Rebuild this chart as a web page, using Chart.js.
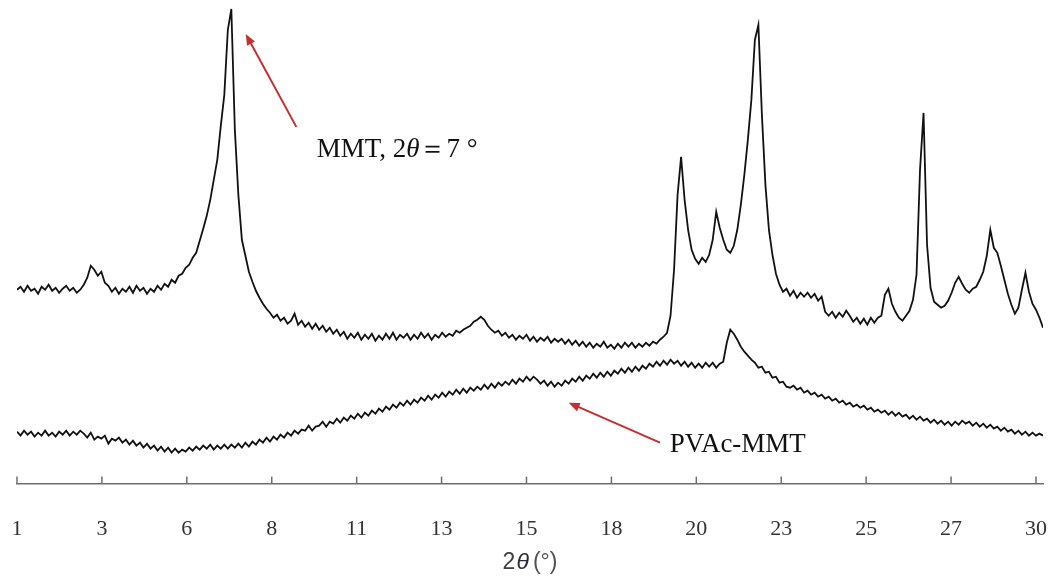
<!DOCTYPE html>
<html>
<head>
<meta charset="utf-8">
<script src="https://cdn.jsdelivr.net/npm/chart.js@4.4.1/dist/chart.umd.min.js"></script>
<style>
  html, body { margin: 0; padding: 0; background: #fff; }
  #wrap { width: 1056px; height: 577px; }
</style>
</head>
<body>
<div id="wrap"><canvas id="xrd" width="1056" height="577"></canvas></div>
<script>
// x axis labels as printed (Excel-style rounded values, evenly spaced from 1 to 30)
const tickLabels = ['1', '3', '6', '8', '11', '13', '15', '18', '20', '23', '25', '27', '30'];

// intensities (a.u.), one value every 0.1 degree from 2θ = 1.0 to 30.2
const mmt = [
  194, 197, 192, 198, 193, 195, 190, 197, 194, 199,
  193, 196, 191, 195, 198, 193, 196, 191, 194, 199,
  206, 218, 214, 208, 212, 201, 198, 192, 196, 190,
  195, 192, 197, 191, 198, 193, 196, 190, 195, 192,
  198, 194, 200, 197, 204, 201, 208, 210, 216, 219,
  226, 231, 243, 255, 268, 284, 304, 324, 358, 389,
  454, 475, 354, 289, 244, 228, 212, 202, 193, 186,
  180, 175, 171, 166, 169, 163, 166, 160, 163, 170,
  159, 163, 157, 161, 155, 160, 154, 158, 152, 156,
  150, 154, 148, 152, 145, 150, 146, 151, 144, 149,
  145, 150, 143, 148, 144, 150, 145, 151, 144, 149,
  146, 150, 144, 149, 145, 151, 146, 150, 144, 149,
  146, 151, 147, 150, 148, 153, 151, 154, 156, 158,
  162, 164, 167, 164, 158, 154, 151, 153, 148, 151,
  146, 149, 144, 148, 145, 149, 143, 147, 142, 146,
  143, 147, 141, 145, 142, 145, 140, 144, 139, 143,
  138, 142, 137, 141, 136, 140, 137, 142, 136, 139,
  135, 140, 136, 141, 137, 141, 136, 140, 137, 141,
  138, 142, 140, 144, 147, 151, 168, 214, 289, 327,
  284, 254, 234, 225, 220, 226, 222, 229, 244, 272,
  256, 244, 234, 231, 238, 254, 279, 309, 344, 384,
  444, 459, 369, 299, 254, 229, 210, 199, 192, 195,
  188, 193, 186, 191, 187, 191, 186, 190, 183, 187,
  172, 168, 172, 166, 171, 167, 173, 168, 162, 166,
  160, 165, 159, 166, 161, 166, 168, 189, 195, 180,
  172, 166, 163, 168, 173, 184, 209, 314, 371, 239,
  196, 182, 179, 176, 178, 183, 191, 201, 207, 200,
  194, 191, 195, 197, 204, 212, 228, 254, 236, 231,
  218, 204, 190, 179, 170, 176, 194, 211, 192, 180,
  174, 166, 156
];

const pvacMmt = [
  52, 48, 53, 49, 52, 47, 51, 48, 53, 48,
  51, 47, 52, 49, 53, 48, 52, 49, 53, 50,
  46, 51, 44, 47, 45, 48, 40, 45, 43, 46,
  41, 44, 39, 43, 38, 41, 36, 40, 35, 38,
  33, 37, 32, 36, 31, 35, 31, 34, 32, 36,
  33, 37, 34, 38, 35, 39, 34, 38, 35, 39,
  35, 39, 36, 40, 36, 41, 37, 42, 39, 44,
  41, 46, 42, 47, 44, 49, 46, 51, 48, 53,
  50, 54, 53, 58, 53, 57, 58, 62, 57, 62,
  60, 65, 61, 66, 63, 68, 65, 70, 66, 71,
  68, 73, 70, 75, 72, 77, 74, 79, 76, 81,
  78, 83, 79, 84, 81, 86, 83, 88, 84, 89,
  86, 91, 87, 92, 89, 94, 90, 95, 91, 96,
  93, 97, 94, 99, 95, 100, 96, 101, 98, 102,
  99, 104, 100, 105, 102, 107, 103, 107, 104, 100,
  103, 98, 102, 97, 101, 98, 103, 100, 105, 102,
  107, 103, 108, 105, 110, 106, 111, 107, 112, 108,
  113, 110, 115, 111, 116, 112, 117, 113, 118, 115,
  120, 117, 122, 118, 123, 119, 124, 120, 123, 118,
  122, 117, 121, 116, 120, 116, 121, 117, 121, 116,
  120, 122, 141, 154, 150, 144, 137, 132, 128, 124,
  121, 116, 117, 111, 112, 106, 107, 101, 102, 97,
  96, 98, 94, 96, 91, 93, 89, 91, 87, 89,
  85, 87, 83, 85, 81, 83, 79, 81, 77, 79,
  76, 78, 74, 76, 72, 74, 71, 73, 69, 72,
  68, 71, 67, 69, 65, 68, 64, 67, 63, 65,
  61, 64, 60, 63, 59, 62, 58, 62, 59, 63,
  60, 62, 58, 61, 57, 60, 56, 59, 55, 57,
  53, 56, 52, 54, 50, 53, 49, 52, 48, 51,
  48, 50, 48
];

const twoTheta = mmt.map((_, i) => +(1 + i * 0.1).toFixed(1));
const toPoints = arr => arr.map((v, i) => ({ x: twoTheta[i], y: v }));

// callouts, in data coordinates
const notes = [
  { parts: [['MMT, 2', ''], ['θ', 'italic '], ['＝7 °', '']], at: [9.53, 327], from: [8.95, 357], to: [7.51, 450] },
  { parts: [['PVAc-MMT', '']], at: [19.58, 32], from: [19.3, 41], to: [16.7, 81] }
];

const decor = {
  id: 'decor',
  afterDraw(chart) {
    const { ctx, chartArea } = chart;
    const x = chart.scales.x, y = chart.scales.y;
    ctx.save();

    // small tick marks standing up on the axis line
    ctx.strokeStyle = '#6e6e6e';
    ctx.lineWidth = 1.5;
    x.ticks.forEach(t => {
      const px = x.getPixelForValue(t.value);
      ctx.beginPath();
      ctx.moveTo(px, chartArea.bottom);
      ctx.lineTo(px, chartArea.bottom - 7);
      ctx.stroke();
    });

    // axis title 2θ(°)
    const title = [['2', '', '#404040', 1], ['θ', 'italic ', '#2a2a3a', 4], ['(°)', '', '#505050', 0]];
    const tf = '23px "Liberation Sans"';
    ctx.textBaseline = 'middle';
    let w = 0;
    title.forEach(p => { ctx.font = p[1] + tf; w += ctx.measureText(p[0]).width + p[3]; });
    let tx = (chartArea.left + chartArea.right) / 2 - w / 2;
    title.forEach(p => {
      ctx.font = p[1] + tf;
      ctx.fillStyle = p[2];
      ctx.fillText(p[0], tx, x.bottom + 19);
      tx += ctx.measureText(p[0]).width + p[3];
    });

    // red arrows and callout text
    notes.forEach(n => {
      const x0 = x.getPixelForValue(n.from[0]), y0 = y.getPixelForValue(n.from[1]);
      const x1 = x.getPixelForValue(n.to[0]), y1 = y.getPixelForValue(n.to[1]);
      const a = Math.atan2(y1 - y0, x1 - x0);
      ctx.strokeStyle = '#c3302f';
      ctx.fillStyle = '#c3302f';
      ctx.lineWidth = 2;
      ctx.beginPath();
      ctx.moveTo(x0, y0);
      ctx.lineTo(x1 - 8 * Math.cos(a), y1 - 8 * Math.sin(a));
      ctx.stroke();
      ctx.beginPath();
      ctx.moveTo(x1, y1);
      ctx.lineTo(x1 - 11 * Math.cos(a) + 4.5 * Math.sin(a), y1 - 11 * Math.sin(a) - 4.5 * Math.cos(a));
      ctx.lineTo(x1 - 11 * Math.cos(a) - 4.5 * Math.sin(a), y1 - 11 * Math.sin(a) + 4.5 * Math.cos(a));
      ctx.closePath();
      ctx.fill();

      let lx = x.getPixelForValue(n.at[0]);
      const ly = y.getPixelForValue(n.at[1]);
      ctx.fillStyle = '#111';
      ctx.textBaseline = 'alphabetic';
      n.parts.forEach(p => {
        ctx.font = p[1] + '27px "Liberation Serif"';
        ctx.fillText(p[0], lx, ly);
        lx += ctx.measureText(p[0]).width;
      });
    });
    ctx.restore();
  }
};

new Chart(document.getElementById('xrd'), {
  type: 'line',
  data: {
    datasets: [
      { label: 'MMT', data: toPoints(mmt), borderColor: '#111', borderWidth: 1.8, pointRadius: 0, tension: 0, fill: false },
      { label: 'PVAc-MMT', data: toPoints(pvacMmt), borderColor: '#111', borderWidth: 1.8, pointRadius: 0, tension: 0, fill: false }
    ]
  },
  options: {
    responsive: false,
    animation: false,
    devicePixelRatio: 1,
    layout: { padding: { left: 17, right: 13, top: 0, bottom: 33 } },
    plugins: { legend: { display: false }, tooltip: { enabled: false } },
    scales: {
      x: {
        type: 'linear',
        min: 1,
        max: 30.2,
        afterBuildTicks: scale => {
          scale.ticks = tickLabels.map((_, i) => ({ value: 1 + i * 29 / (tickLabels.length - 1) }));
        },
        ticks: {
          autoSkip: false,
          maxRotation: 0,
          padding: 2,
          color: '#333',
          font: { family: '"Liberation Serif"', size: 22 },
          callback: (value, index) => tickLabels[index]
        },
        // grid hidden; tickLength only reserves the gap between axis line and labels
        grid: { display: false, drawTicks: true, tickLength: 30 },
        border: { display: true, color: '#6e6e6e', width: 1.5 }
      },
      y: { display: false, min: 0, max: 484 }
    }
  },
  plugins: [decor]
});
</script>
</body>
</html>
